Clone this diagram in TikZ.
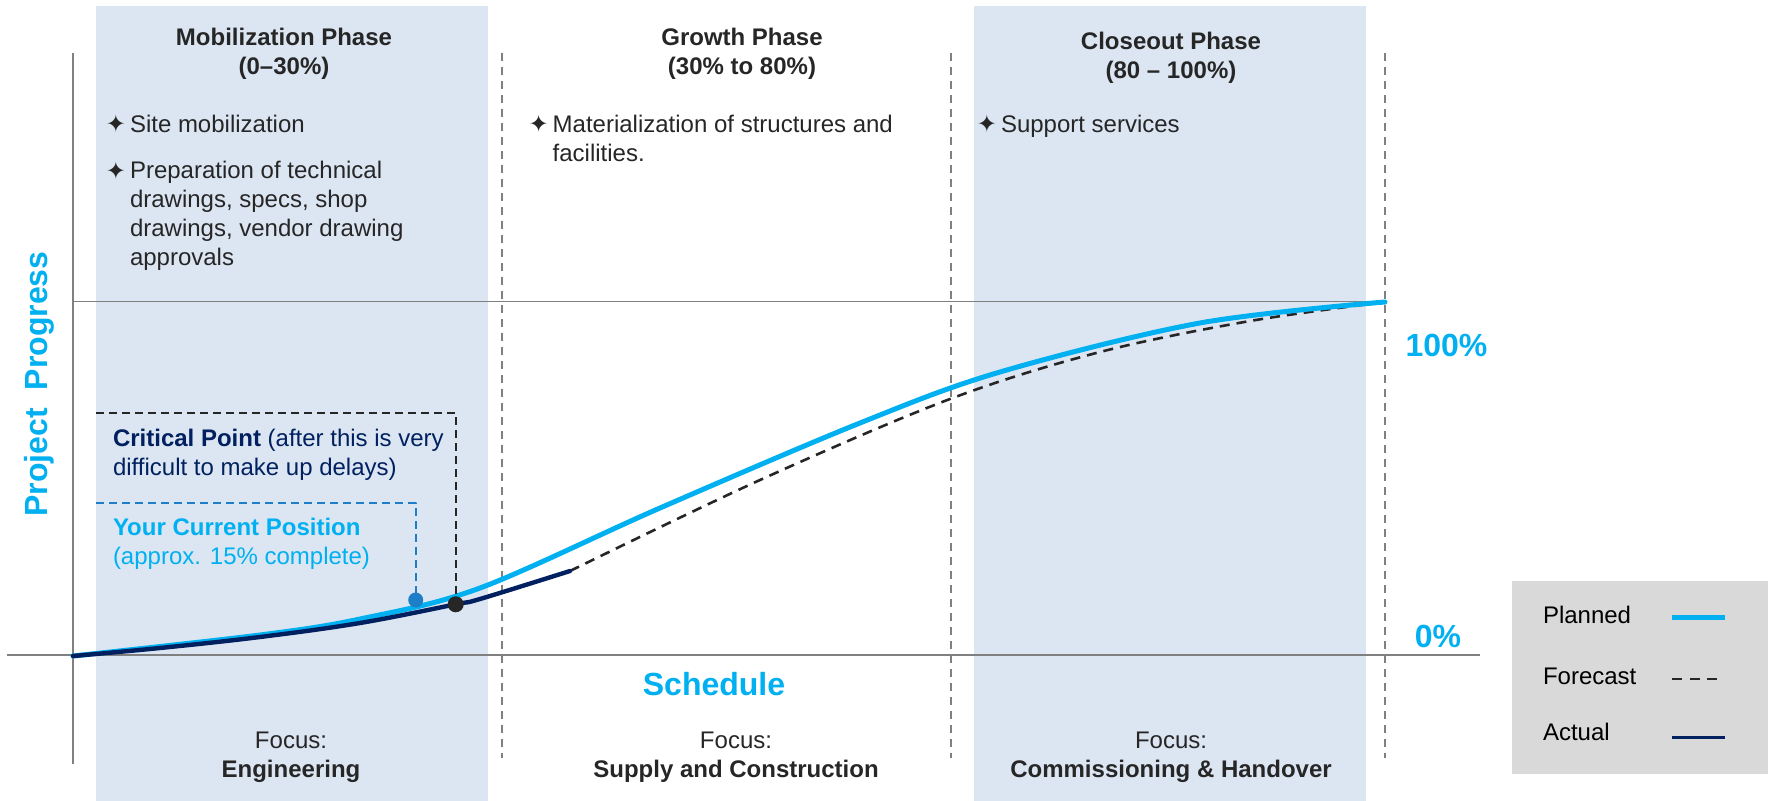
\documentclass[tikz,border=0pt]{standalone}
\usepackage{fontspec}
\setmainfont{Liberation Sans}
\newfontfamily\symfont{DejaVu Sans}
\usetikzlibrary{positioning}

\definecolor{bandblue}{HTML}{DCE6F2}
\definecolor{planblue}{HTML}{00B0F0}
\definecolor{actnavy}{HTML}{002060}
\definecolor{darktxt}{HTML}{262626}
\definecolor{axisgray}{HTML}{808080}
\definecolor{posblue}{HTML}{1F7EC8}
\definecolor{legendgray}{HTML}{D9D9D9}

\begin{document}
\begin{tikzpicture}[x=0.5pt,y=-0.5pt,line join=round,
  every node/.style={inner sep=0pt,outer sep=0pt},
  txt/.style={font=\fontsize{12}{14.5}\selectfont,text=darktxt},
  ttl/.style={font=\fontsize{12}{14.5}\selectfont\bfseries,text=darktxt,align=center,anchor=base},
  big/.style={font=\fontsize{16}{19}\selectfont\bfseries,text=planblue,anchor=base},
  bul/.style={font=\symfont\fontsize{12}{14}\selectfont,text=darktxt,anchor=base east},
  itm/.style={txt,align=left,anchor=base west},
  phaseline/.style={axisgray,line width=0.7pt,dash pattern=on 4pt off 3pt},
  planned/.style={planblue,line width=2.5pt,line cap=round},
  actual/.style={actnavy,line width=2.2pt,line cap=round},
  forecast/.style={darktxt,line width=1.3pt,dash pattern=on 5pt off 3.5pt},
  calldash/.style={line width=1pt,dash pattern=on 4pt off 2.5pt}]

\useasboundingbox (0,0) rectangle (1775,801);

% phase bands
\fill[bandblue] (96,6) rectangle (488,801);
\fill[bandblue] (974,6) rectangle (1366,801);

% phase borders and axes
\foreach \x in {502,951,1385}
  \draw[phaseline] (\x,53) -- (\x,758);
\draw[axisgray,line width=1pt] (73,53) -- (73,764);
\draw[axisgray,line width=1pt] (7,655) -- (1480,655);
\draw[axisgray,line width=0.8pt] (73,301.5) -- (1385,301.5);

% phase titles (base = last line)
\node[ttl] (mobttl) at (284,75) {Mobilization Phase\\(0–30\%)};
\node[ttl] (growttl) at (742,75) {Growth Phase\\(30\% to 80\%)};
\node[ttl] (closettl) at (1171,79) {Closeout Phase\\(80 – 100\%)};

% phase items
\node[bul] (mobstar1) at (126,132.7) {✦};
\node[itm] (mob1) at (130,132.7) {Site mobilization};
\node[bul] (mobstar2) at (126,179.3) {✦};
\node[itm] (mob2) at (130,266) {Preparation of technical\\drawings, specs, shop\\drawings, vendor drawing\\approvals};
\node[bul] (growstar1) at (548.7,132.7) {✦};
\node[itm] (grow1) at (552.7,161.7) {Materialization of structures and\\facilities.};
\node[bul] (closestar1) at (997,132.7) {✦};
\node[itm] (close1) at (1001,132.7) {Support services};

% curves
\draw[forecast] plot[smooth,tension=0.55] coordinates {(570,571) (760,480) (950,399) (1100,352) (1250,321) (1385,302)};
\draw[planned] plot[smooth,tension=0.55] coordinates {(73,656) (260,635) (360,619) (480,588) (660,508) (860,423) (1000,372) (1200,323) (1385,302)};
\draw[actual] plot[smooth,tension=0.6] coordinates {(73,656) (160,648) (260,637) (360,623) (455.7,604.3) (480,599) (570,571)};

% callouts
\node[circle,fill=posblue,minimum size=7.5pt] (curdot) at (415.7,600) {};
\node[circle,fill=darktxt,minimum size=8pt] (critdot) at (455.7,604.3) {};
\coordinate (critstart) at (96,413);
\coordinate (critcorner) at (455.7,413);
\coordinate (curstart) at (96,502.7);
\coordinate (curcorner) at (415.7,502.7);
\draw[calldash,darktxt] (critstart) -- (critcorner) -- (critdot);
\draw[calldash,posblue] (curstart) -- (curcorner) -- (curdot);
\node[itm,text=actnavy] (crittxt) at (113,475) {\textbf{Critical Point} (after this is very\\difficult to make up delays)};
\node[itm,text=planblue] (curtxt) at (113,564.5) {\textbf{Your Current Position}\\(approx. 15\% complete)};

% axis labels
\node[big] (pct100) at (1446.5,357) {100\%};
\node[big] (pct0) at (1438,647) {0\%};
\node[big] (xlabel) at (714,695) {Schedule};
\node[big,rotate=90] (ylabel) at (47.3,384) {Project~~Progress};

% focus labels
\node[txt,align=center,anchor=base] (foc1) at (291,777) {Focus:\\\textbf{Engineering}};
\node[txt,align=center,anchor=base] (foc2) at (736,777) {Focus:\\\textbf{Supply and Construction}};
\node[txt,align=center,anchor=base] (foc3) at (1171,777) {Focus:\\\textbf{Commissioning \& Handover}};

% legend
\node[fill=legendgray,minimum width=128pt,minimum height=96.5pt,anchor=north west] (legend) at (1512,581) {};
\node[txt,anchor=base west,text=black] (lgplan) at (1543,623.3) {Planned};
\node[txt,anchor=base west,text=black] (lgfore) at (1543,684) {Forecast};
\node[txt,anchor=base west,text=black] (lgact) at (1543,740.7) {Actual};
\draw[planned,line cap=butt] (1672,617) -- (1725,617);
\draw[darktxt,line width=1.1pt,dash pattern=on 5pt off 3.75pt] (1672,679) -- (1717,679);
\draw[actual,line cap=butt,line width=1.5pt] (1672,737) -- (1725,737);
\end{tikzpicture}
\end{document}
